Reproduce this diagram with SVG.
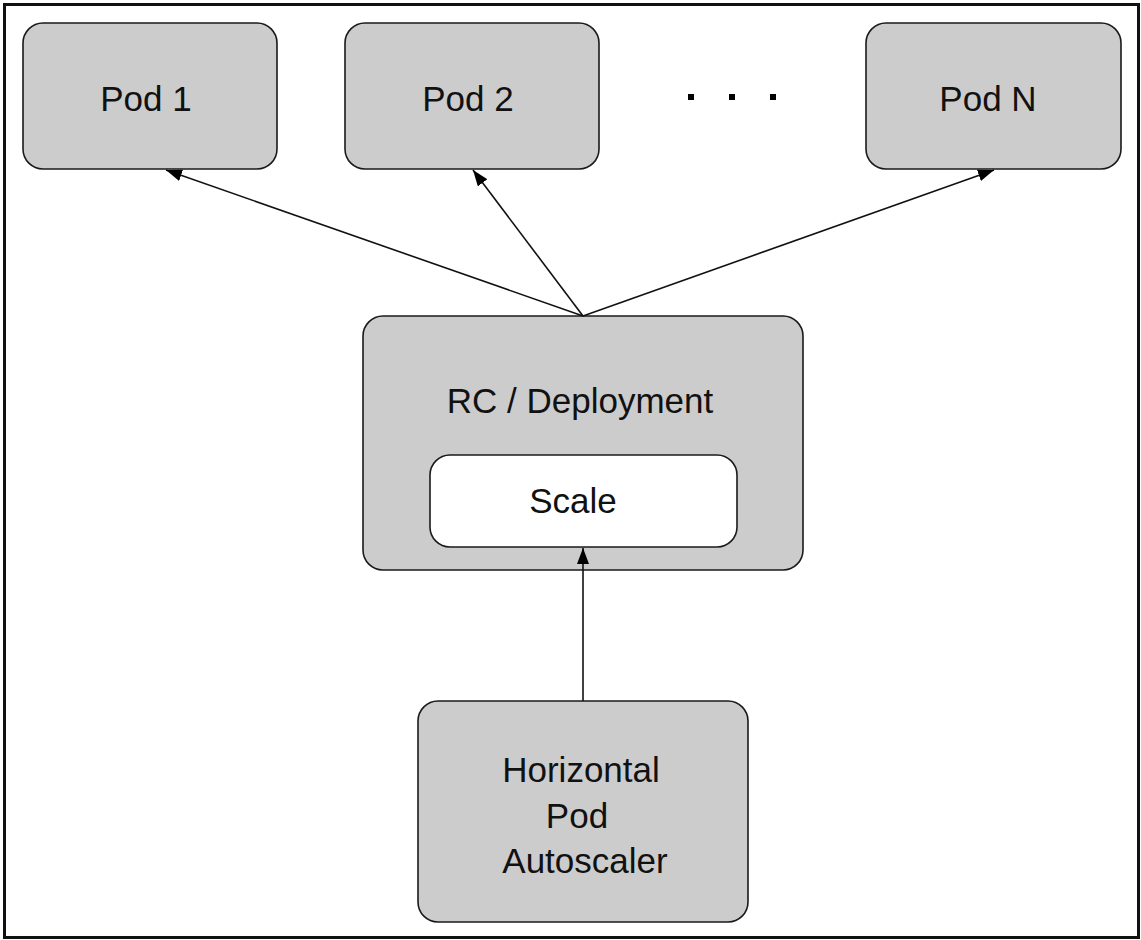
<svg xmlns="http://www.w3.org/2000/svg" width="1141" height="940" viewBox="0 0 1141 940">
<style>
.box{fill:#cccccc;stroke:#1a1a1a;stroke-width:1.6}
.inner{fill:#ffffff;stroke:#1a1a1a;stroke-width:1.6}
.lbl{font-family:"Liberation Sans",Arial,sans-serif;font-size:35px;fill:#111;text-anchor:middle}
.edge{stroke:#111;stroke-width:1.6;fill:none;marker-end:url(#ah)}
.dot{fill:#000}
</style>
<defs>
<marker id="ah" viewBox="0 0 16 12" refX="16" refY="6" markerWidth="16" markerHeight="12" markerUnits="userSpaceOnUse" orient="auto">
<path d="M0,0 L16,6 L0,12 z" fill="#000"/>
</marker>
</defs>
<rect x="0" y="0" width="1141" height="940" fill="#fff"/>
<rect x="4.5" y="4.5" width="1134" height="933" fill="none" stroke="#111" stroke-width="3"/>
<g id="pod1"><rect class="box" x="23" y="23" width="254" height="146" rx="20"/><text class="lbl" x="146" y="111">Pod 1</text></g>
<g id="pod2"><rect class="box" x="345" y="23" width="254" height="146" rx="20"/><text class="lbl" x="468" y="111">Pod 2</text></g>
<g id="dots"><rect class="dot" x="688" y="94" width="6" height="6"/><rect class="dot" x="729" y="94" width="6" height="6"/><rect class="dot" x="770" y="94" width="6" height="6"/></g>
<g id="podN"><rect class="box" x="866" y="23" width="255" height="146" rx="20"/><text class="lbl" x="988" y="111">Pod N</text></g>
<g id="rc"><rect class="box" x="363" y="316" width="440" height="254" rx="20"/><text class="lbl" x="580" y="413">RC / Deployment</text>
<g id="scale"><rect class="inner" x="430" y="455" width="307" height="92" rx="20"/><text class="lbl" x="573" y="513">Scale</text></g></g>
<g id="hpa"><rect class="box" x="418" y="701" width="330" height="221" rx="20"/><text class="lbl" x="581" y="782">Horizontal</text><text class="lbl" x="577" y="828">Pod</text><text class="lbl" x="585" y="873">Autoscaler</text></g>
<g id="connectors">
<line class="edge" x1="583" y1="316" x2="166" y2="170"/>
<line class="edge" x1="583" y1="316" x2="473" y2="170"/>
<line class="edge" x1="583" y1="316" x2="994" y2="170"/>
<line class="edge" x1="583" y1="701" x2="583" y2="548"/>
</g>
</svg>
